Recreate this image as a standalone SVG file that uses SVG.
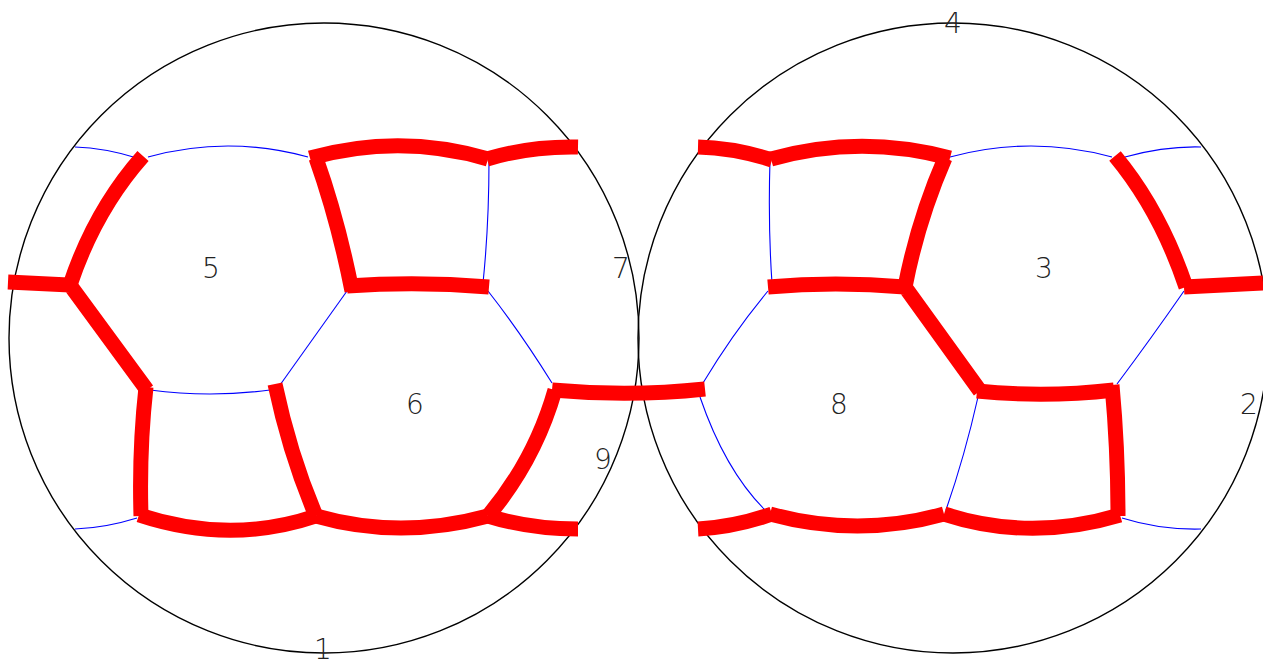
<svg xmlns="http://www.w3.org/2000/svg" width="1263" height="659" viewBox="0 0 1263 659">
<style>
.c{fill:none;stroke:#000;stroke-width:1.4}
.b{fill:none;stroke:#00f;stroke-width:1.1}
.r{fill:none;stroke:#f00;stroke-width:15;stroke-linejoin:miter}
text{font-family:"DejaVu Sans","Liberation Sans",sans-serif;font-weight:200;font-size:28px;fill:#222;text-anchor:middle;dominant-baseline:central}
</style>
<rect width="1263" height="659" fill="#fff"/>
<g id="circles">
<circle id="c1" class="c" cx="324" cy="338" r="315"/>
<circle id="c2" class="c" cx="953" cy="338" r="315"/>
</g>
<g id="connectors">
<g id="blue">
<path class="b" d="M75 147Q105 148 137 158"/>
<path class="b" d="M148 157Q228 135 308 157"/>
<path class="b" d="M489 160Q489 225 483 283"/>
<path class="b" d="M347 291L280 385"/>
<path class="b" d="M150 390Q210 398 270 390"/>
<path class="b" d="M488 291Q521 333 552 383"/>
<path class="b" d="M75 529Q105 528 137 518"/>
<path class="b" d="M770 160Q768 225 772 283"/>
<path class="b" d="M768 291Q733 333 703 383"/>
<path class="b" d="M700 397Q725 470 765 510"/>
<path class="b" d="M950 157Q1031 135 1112 157"/>
<path class="b" d="M1125 157Q1165 146 1201 147"/>
<path class="b" d="M1184 291Q1150 340 1117 384"/>
<path class="b" d="M978 397Q965 455 946 510"/>
<path class="b" d="M1122 518Q1160 530 1201 529"/>
</g>
<g id="red">
<path class="r" d="M143 156Q95 210 70 285"/>
<path class="r" d="M8 282L70 285L147 390"/>
<path class="r" d="M146 387Q139 450 141 516"/>
<path class="r" d="M139 515Q230 545 316 516"/>
<path class="r" d="M275 384Q290 455 316 516"/>
<path class="r" d="M316 516Q400 540 488 516"/>
<path class="r" d="M488 516Q535 460 555 390"/>
<path class="r" d="M488 516Q530 529 578 529"/>
<path class="r" d="M552 390Q630 397 705 389"/>
<path class="r" d="M310 158Q400 133 488 159"/>
<path class="r" d="M487 159Q530 146 578 147"/>
<path class="r" d="M316 158Q338 220 352 291"/>
<path class="r" d="M347 286Q418 281 489 287"/>
<path class="r" d="M698 147Q735 148 772 160"/>
<path class="r" d="M771 159Q860 134 950 158"/>
<path class="r" d="M945 158Q918 220 905 287"/>
<path class="r" d="M768 287Q835 281 905 287L980 391"/>
<path class="r" d="M977 391Q1045 398 1114 390"/>
<path class="r" d="M1112 385Q1118 450 1118 516"/>
<path class="r" d="M1120 515Q1030 542 944 514"/>
<path class="r" d="M944 514Q858 538 770 514"/>
<path class="r" d="M772 514Q735 527 698 529"/>
<path class="r" d="M1115 156Q1160 210 1186 287"/>
<path class="r" d="M1184 287L1263 283"/>
</g>
</g>
<g id="n1"><text x="323" y="649">1</text></g>
<g id="n2"><text x="1249" y="404">2</text></g>
<g id="n3"><text x="1044" y="268">3</text></g>
<g id="n4"><text x="953" y="23">4</text></g>
<g id="n5"><text x="211" y="268">5</text></g>
<g id="n6"><text x="415" y="404">6</text></g>
<g id="n7"><text x="621" y="268">7</text></g>
<g id="n8"><text x="839" y="404">8</text></g>
<g id="n9"><text x="603" y="459">9</text></g>
</svg>
